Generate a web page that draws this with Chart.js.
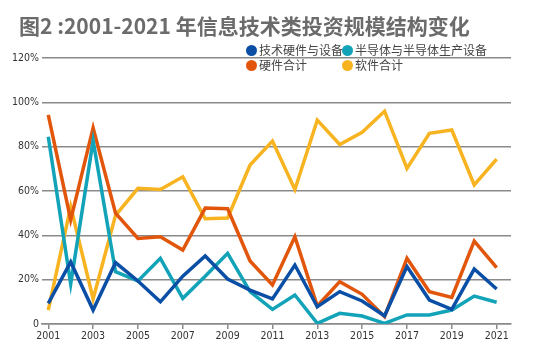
<!DOCTYPE html>
<html><head><meta charset="utf-8">
<script src="https://cdn.jsdelivr.net/npm/chart.js@4/dist/chart.umd.min.js"></script>
<style>
html,body{margin:0;padding:0;background:#fff;}
#wrap{position:relative;width:550px;height:361px;overflow:hidden;}
#title{position:absolute;left:19px;top:10px;font:bold 21px "Noto Sans CJK SC","Noto Sans",sans-serif;color:#6b6b6b;white-space:nowrap;}
.lg{position:absolute;font:12px "Noto Sans CJK SC",sans-serif;color:#444;white-space:nowrap;line-height:14px;}
.lg i{display:inline-block;width:11px;height:11px;border-radius:50%;vertical-align:-1px;margin-right:2px;}
canvas{position:absolute;left:0;top:0;}
</style></head>
<body><div id="wrap">
<canvas id="c" width="550" height="361"></canvas>
<div id="title">图2 :2001-2021 年信息技术类投资规模结构变化</div>
<div id="legend"></div>
</div>
<script>
const years = [2001,2002,2003,2004,2005,2006,2007,2008,2009,2010,2011,2012,2013,2014,2015,2016,2017,2018,2019,2020,2021];
const seriesNames = ["技术硬件与设备","半导体与半导体生产设备","硬件合计","软件合计"];
const techHardware = [9.3,28,6.3,27.7,19.4,10,21.6,30.7,20.3,15.3,11.3,26.6,7.8,14.6,10.4,3.7,25.9,10.8,6.6,24.8,15.8];
const semiconductor = [84.5,18,82.7,23.6,19.4,29.6,11.6,21.5,31.9,14.6,6.6,13.1,0.3,4.8,3.6,0.3,4.1,4.1,6.3,12.6,9.8];
const hardwareTotal = [94.3,47,88.5,50,38.6,39.4,33.4,52.3,52,28.4,17.6,39.4,8.1,19.1,13.4,3.3,29.6,14.6,12,37.4,25.4];
const softwareTotal = [6.3,53,11.3,49,61.2,60.7,66.4,47.5,47.8,71.7,82.5,60.7,92,81,86.5,96,70.2,86,87.5,62.7,74.4];
const xTickYears = [2001,2003,2005,2007,2009,2011,2013,2015,2017,2019,2021];
const yTicks = [0,20,40,60,80,100,120];
const colors = ["#0a4fa5","#13a3b9","#e2560c","#f8b320"];
const allSeries = [techHardware, semiconductor, hardwareTotal, softwareTotal];

// legend
const lgPos = [[246,43],[342,43],[246,58],[342,58]];
const lgEl = document.getElementById('legend');
seriesNames.forEach((n,i)=>{
  const d=document.createElement('div');d.className='lg';
  d.style.left=lgPos[i][0]+'px';d.style.top=lgPos[i][1]+'px';
  d.innerHTML='<i style="background:'+colors[i]+'"></i>'+n;
  lgEl.appendChild(d);
});

const tickFont = {family:'"DejaVu Sans Condensed","Liberation Sans Narrow",sans-serif', size:10.5};
new Chart(document.getElementById('c'),{
  type:'line',
  data:{datasets: allSeries.map((s,i)=>({
    label:seriesNames[i],
    data: years.map((y,j)=>({x:y,y:s[j]})),
    borderColor:colors[i], backgroundColor:colors[i],
    borderWidth:3.5, pointRadius:0, tension:0, fill:false,
    borderJoinStyle:'miter'
  }))},
  options:{
    responsive:false, animation:false, devicePixelRatio:1,
    layout:{padding:{top:58,right:39,left:0,bottom:0}},
    plugins:{legend:{display:false},tooltip:{enabled:false}},
    scales:{
      x:{type:'linear',min:2000.72,max:2021.64,
        afterBuildTicks:(sc)=>{sc.ticks=xTickYears.map(v=>({value:v}));},
        afterFit:(sc)=>{sc.height=37;},
        grid:{drawOnChartArea:false,drawTicks:true,tickLength:5,color:'#8a8a8a',lineWidth:1.5},
        border:{display:true,color:'#8a8a8a',width:1.5},
        ticks:{font:tickFont,color:'#333',padding:1,maxRotation:0,autoSkip:false,callback:v=>String(v)}
      },
      y:{min:0,max:120,
        afterBuildTicks:(sc)=>{sc.ticks=yTicks.map(v=>({value:v}));},
        afterFit:(sc)=>{sc.width=42;},
        grid:{drawTicks:false,color:'#8a8a8a',lineWidth:1.5},
        border:{display:false},
        ticks:{font:tickFont,color:'#333',padding:3,callback:v=>v===0?'0':v+'%'}
      }
    }
  }
});
</script>
</body></html>
